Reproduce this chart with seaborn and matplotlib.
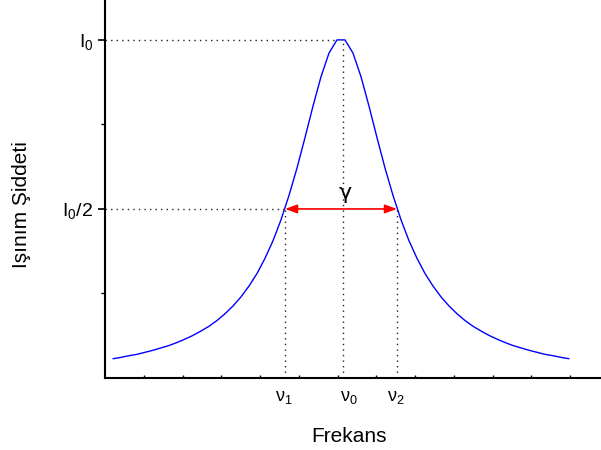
import numpy as np
import pandas as pd
import matplotlib
matplotlib.use("Agg")
import matplotlib.pyplot as plt
from matplotlib.ticker import FixedLocator
import seaborn as sns

# ---- data ----
intensity = [0.057, 0.061, 0.066, 0.070, 0.076, 0.082, 0.089, 0.096, 0.105, 0.115,
             0.126, 0.139, 0.153, 0.170, 0.190, 0.213, 0.240, 0.272, 0.309, 0.354,
             0.406, 0.468, 0.540, 0.621, 0.711, 0.804, 0.891, 0.961, 1.000,
             1.000, 0.961, 0.891, 0.804, 0.711, 0.621, 0.540, 0.468, 0.406, 0.354,
             0.309, 0.272, 0.240, 0.213, 0.190, 0.170, 0.153, 0.139, 0.126, 0.115,
             0.105, 0.096, 0.089, 0.082, 0.076, 0.070, 0.066, 0.061, 0.057]
frequency = list(range(len(intensity)))
nu_positions = [21.5, 28.8, 35.5]          # nu1, nu0, nu2
nu_label_pos = [21.4, 29.5, 35.4]
nu_labels = [r"$\mathregular{ν_1}$", r"$\mathregular{ν_0}$", r"$\mathregular{ν_2}$"]
y_levels = [0.5, 1.0]
y_labels = [r"$\mathregular{I_0/2}$", r"$\mathregular{I_0}$"]
gamma_label = "γ"
xlabel = "Frekans"
ylabel = "Işınım Şiddeti"

sns.set_style("ticks")
plt.rcParams["font.family"] = ["Liberation Sans", "DejaVu Sans"]
plt.rcParams["mathtext.fontset"] = "custom"
plt.rcParams["mathtext.rm"] = "Liberation Sans"
plt.rcParams["mathtext.it"] = "Liberation Sans:italic"
for key in ["text.color", "axes.labelcolor", "xtick.color", "ytick.color",
            "axes.edgecolor"]:
    plt.rcParams[key] = "black"

fig = plt.figure(figsize=(6.01, 4.5), dpi=100)
ax = fig.add_axes([105/601, 72/450, 496/601, 378/450])

df = pd.DataFrame({"freq": frequency, "I": intensity})
sns.lineplot(data=df, x="freq", y="I", ax=ax, color="#0000ff", lw=1.0,
             estimator=None, sort=False)

ax.set_xlim(-1, 61)
ax.set_ylim(0, 1.118)

dot = dict(color="#222222", lw=1.0, dashes=(1, 3))
nu1, nu0, nu2 = nu_positions
ax.plot([-1, 28.0], [1.0, 1.0], **dot)
ax.plot([-1, nu1], [0.5, 0.5], **dot)
ax.plot([nu0, nu0], [0, 1.0], **dot)
ax.plot([nu1, nu1], [0, 0.5], **dot)
ax.plot([nu2, nu2], [0, 0.5], **dot)

ax.annotate("", xy=(nu1, 0.5), xytext=(nu2, 0.5),
            arrowprops=dict(arrowstyle="<|-|>,head_length=0.6,head_width=0.22",
                            color="red", lw=1.2, shrinkA=0, shrinkB=0,
                            mutation_scale=12))
ax.text(29.0, 0.530, gamma_label, fontsize=16, ha="center", va="baseline",
        family=["DejaVu Sans"])

# spines
sns.despine(ax=ax)
ax.spines["left"].set_linewidth(1.5)
ax.spines["bottom"].set_linewidth(1.5)

# y ticks
ax.set_yticks(y_levels)
ax.set_yticklabels(y_labels, fontsize=14)
ax.yaxis.set_minor_locator(FixedLocator([0.25, 0.75]))
ax.tick_params(axis="y", which="major", length=5, width=1.2, direction="out", pad=3.5)
ax.tick_params(axis="y", which="minor", length=3, width=1.0, direction="out")

# x ticks
ax.set_xticks(nu_label_pos)
ax.set_xticklabels(nu_labels, fontsize=13)
ax.xaxis.set_minor_locator(FixedLocator([-1 + 4.84375 * i for i in range(1, 13)]))
ax.tick_params(axis="x", which="major", length=0, pad=8)
ax.tick_params(axis="x", which="minor", length=2.5, width=1.0, direction="in")

ax.set_xlabel(xlabel, fontsize=15, va="center")
ax.xaxis.set_label_coords(0.492, -0.156)
ax.set_ylabel(ylabel, fontsize=15, va="center")
ax.yaxis.set_label_coords(-0.169, 0.458)

fig.savefig("out.png", dpi=100)
